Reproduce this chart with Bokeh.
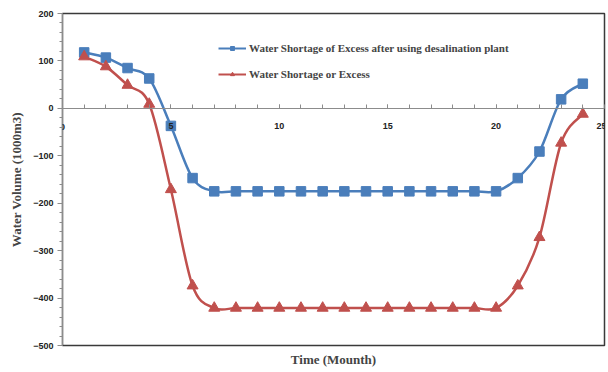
import numpy as np
from bokeh.plotting import figure
from bokeh.models import (Range1d, Legend, LegendItem, Title, FixedTicker, ColumnDataSource, Label)
from bokeh.embed import file_html
from bokeh.resources import INLINE

months = list(range(1, 25))
after_desal = [118, 107, 85, 63, -37, -147, -175, -175, -175, -175, -175, -175,
               -175, -175, -175, -175, -175, -175, -175, -175, -147, -91, 19, 52]
shortage = [109, 88, 49, 9, -171, -374, -421, -421, -421, -421, -421, -421,
            -421, -421, -421, -421, -421, -421, -421, -421, -374, -272, -73, -12]
x_ticks = [0, 5, 10, 15, 20, 25]
y_ticks = [-500, -400, -300, -200, -100, 0, 100, 200]

BLUE = "#4a7ebb"
RED = "#c0504d"

p = figure(width=606, height=371, output_backend="svg", toolbar_location=None,
           x_range=Range1d(0, 25), y_range=Range1d(-500, 200),
           min_border_left=62, min_border_right=2, min_border_top=13, min_border_bottom=0)
p.grid.visible = False
p.background_fill_color = "white"
p.border_fill_color = "white"
p.outline_line_color = "#3a3a3a"
p.outline_line_width = 1.5


def smooth(xs, ys):
    P = np.column_stack([np.asarray(xs, float), np.asarray(ys, float)])
    prev = np.vstack([P[:1], P[:-1]])
    nxt = np.vstack([P[1:], P[-1:]])
    tang = (nxt - prev) / 6.0
    p0 = P[:-1]
    p1 = P[1:]
    c0 = p0 + tang[:-1]
    c1 = p1 - tang[1:]
    return dict(x0=p0[:, 0], y0=p0[:, 1], x1=p1[:, 0], y1=p1[:, 1],
                cx0=c0[:, 0], cy0=c0[:, 1], cx1=c1[:, 0], cy1=c1[:, 1])


for ys, col in [(after_desal, BLUE), (shortage, RED)]:
    src = ColumnDataSource(smooth(months, ys))
    p.bezier(x0="x0", y0="y0", x1="x1", y1="y1", cx0="cx0", cy0="cy0",
             cx1="cx1", cy1="cy1", source=src, line_color=col, line_width=2.5)

sq = p.scatter(months, after_desal, marker="square", size=9.5, color=BLUE)
tr = p.scatter(months, shortage, marker="triangle", size=11, color=RED)
l1 = p.line(x=[np.nan], y=[np.nan], line_color=BLUE, line_width=2)
l2 = p.line(x=[np.nan], y=[np.nan], line_color=RED, line_width=2)

legend = Legend(items=[
    LegendItem(label="Water Shortage of Excess after using desalination plant", renderers=[l1, sq]),
    LegendItem(label="Water Shortage or Excess", renderers=[l2, tr]),
], location=(156, 265), padding=0, margin=0, spacing=14, glyph_width=28,
    glyph_height=10, label_height=10, label_standoff=3,
    label_text_font="Liberation Serif", label_text_font_style="bold",
    label_text_font_size="11px", background_fill_alpha=0, border_line_alpha=0)
p.add_layout(legend, "center")

# x axis at y=0
xa = p.xaxis[0]
xa.fixed_location = 0
xa.ticker = FixedTicker(ticks=x_ticks, minor_ticks=list(range(0, 26)))
xa.major_label_overrides = {x_ticks[0]: ""}
xa.axis_line_color = "#8c8c8c"
xa.major_tick_line_color = "#8c8c8c"
xa.minor_tick_line_color = "#8c8c8c"
xa.major_tick_in = 4
xa.major_tick_out = 0
xa.minor_tick_in = 4
xa.minor_tick_out = 0
xa.major_label_standoff = 15
xa.major_label_text_font = "Liberation Sans"
xa.major_label_text_font_style = "bold"
xa.major_label_text_font_size = "9px"
xa.major_label_text_color = "#222222"

# first x tick label drawn unclipped at the frame edge
p.add_layout(Label(x=x_ticks[0], y=0, text=str(x_ticks[0]), y_offset=-19,
                   text_align="center", text_baseline="middle",
                   text_font="Liberation Sans", text_font_style="bold",
                   text_font_size="9px", text_color="#222222"))

ya = p.yaxis[0]
ya.ticker = FixedTicker(ticks=y_ticks, minor_ticks=list(range(-500, 201, 20)))
ya.axis_line_color = "#8c8c8c"
ya.major_tick_line_color = "#8c8c8c"
ya.minor_tick_line_color = "#8c8c8c"
ya.major_tick_in = 0
ya.major_tick_out = 5
ya.minor_tick_in = 0
ya.minor_tick_out = 3
ya.major_label_standoff = 4
ya.major_label_text_font = "Liberation Sans"
ya.major_label_text_font_style = "bold"
ya.major_label_text_font_size = "9px"
ya.major_label_text_color = "#222222"
ya.axis_label = "Water Volume (1000m3)"
ya.axis_label_text_font = "Liberation Serif"
ya.axis_label_text_font_style = "bold"
ya.axis_label_text_font_size = "13px"
ya.axis_label_standoff = 6

p.add_layout(Title(text="Time (Mounth)", align="center", text_font="Liberation Serif",
                   text_font_style="bold", text_font_size="13px", offset=0,
                   standoff=9), "below")

open("out.html", "w").write(file_html(p, INLINE))
